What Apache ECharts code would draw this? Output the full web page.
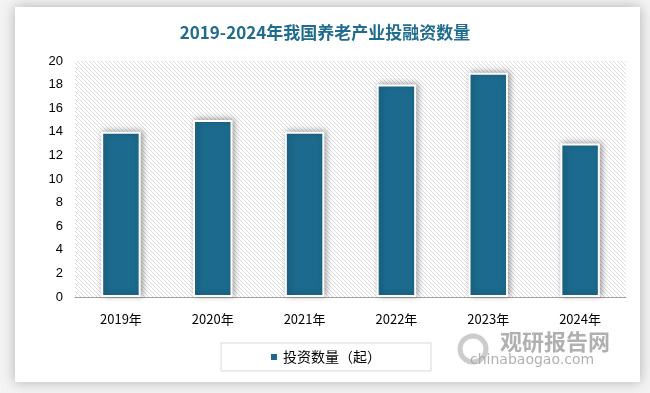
<!DOCTYPE html>
<html><head><meta charset="utf-8">
<script src="https://cdn.jsdelivr.net/npm/echarts@6/dist/echarts.min.js"></script>
<style>html,body{margin:0;padding:0;background:#f3f3f3;}#c{width:650px;height:393px;}</style>
</head><body><div id="c"></div>
<script>
const categories = ['2019年','2020年','2021年','2022年','2023年','2024年'];
const investCount = [14, 15, 14, 18, 19, 13];
const seriesName = '投资数量（起）';
const titleText = '2019-2024年我国养老产业投融资数量';

const pc = document.createElement('canvas');
pc.width = 4; pc.height = 4;
const g = pc.getContext('2d');
g.fillStyle = '#ffffff'; g.fillRect(0,0,4,4);
g.strokeStyle = '#dcdcdc'; g.lineWidth = 1;
g.beginPath(); g.moveTo(-1,-1); g.lineTo(5,5); g.moveTo(-1,3); g.lineTo(1,5); g.moveTo(3,-1); g.lineTo(5,1); g.stroke();

const chart = echarts.init(document.getElementById('c'));
chart.setOption({
  backgroundColor: '#f3f3f3',
  animation: false,
  graphic: [
    {type:'rect', z:-10, shape:{x:15,y:7,width:625,height:375}, style:{fill:'#fff', shadowBlur:12, shadowColor:'rgba(0,0,0,0.28)'}},
    {type:'text', left:500, top:331, z:5, style:{text:'观研报告网', fill:'rgba(150,150,150,0.75)', font:'bold 22px "Noto Sans CJK SC"'}},
    {type:'text', left:470, top:353, z:5, style:{text:'chinabaogao.com', fill:'rgba(150,150,150,0.75)', font:'14px "DejaVu Sans"'}},
    {type:'circle', shape:{cx:473, cy:349, r:13}, z:5, style:{fill:'none', stroke:'rgba(170,170,170,0.6)', lineWidth:5}}
  ],
  title: {
    text: titleText, left: 'center', top: 19,
    textStyle: {color:'#1f6c8d', fontSize:17, fontWeight:'bold', fontFamily:'"Noto Sans CJK SC"'}
  },
  legend: {
    data: [seriesName], left: 'center', top: 343, itemWidth: 8, itemHeight: 8, icon: 'rect',
    padding: [7, 50, 7, 48], borderColor: '#d8d8d8', borderWidth: 1, itemGap: 5,
    textStyle: {color:'#000', fontSize:14, fontFamily:'"Noto Sans CJK SC"'}
  },
  grid: {left:75, right:24, top:61, bottom:96, show:true, borderWidth:0,
    backgroundColor: {image: pc, repeat: 'repeat'}},
  xAxis: {
    type:'category', data: categories,
    axisLine:{lineStyle:{color:'#a0a0a0', width:1}},
    axisTick:{show:false},
    axisLabel:{color:'#000', fontSize:13, margin:16, fontFamily:'"Noto Sans CJK SC"'}
  },
  yAxis: {
    type:'value', min:0, max:20, interval:2,
    axisLine:{show:false}, axisTick:{show:false}, splitLine:{show:false},
    axisLabel:{color:'#000', fontSize:13, margin:12, fontFamily:'"Liberation Sans"'}
  },
  series: [{
    name: seriesName, type:'bar', data: investCount, barWidth: '43%',
    itemStyle: {color:'#1c6b8e', borderColor:'#fff', borderWidth:2, shadowBlur:6, shadowColor:'rgba(0,0,0,0.35)', shadowOffsetX:2, shadowOffsetY:-1}
  }]
});
</script></body></html>
